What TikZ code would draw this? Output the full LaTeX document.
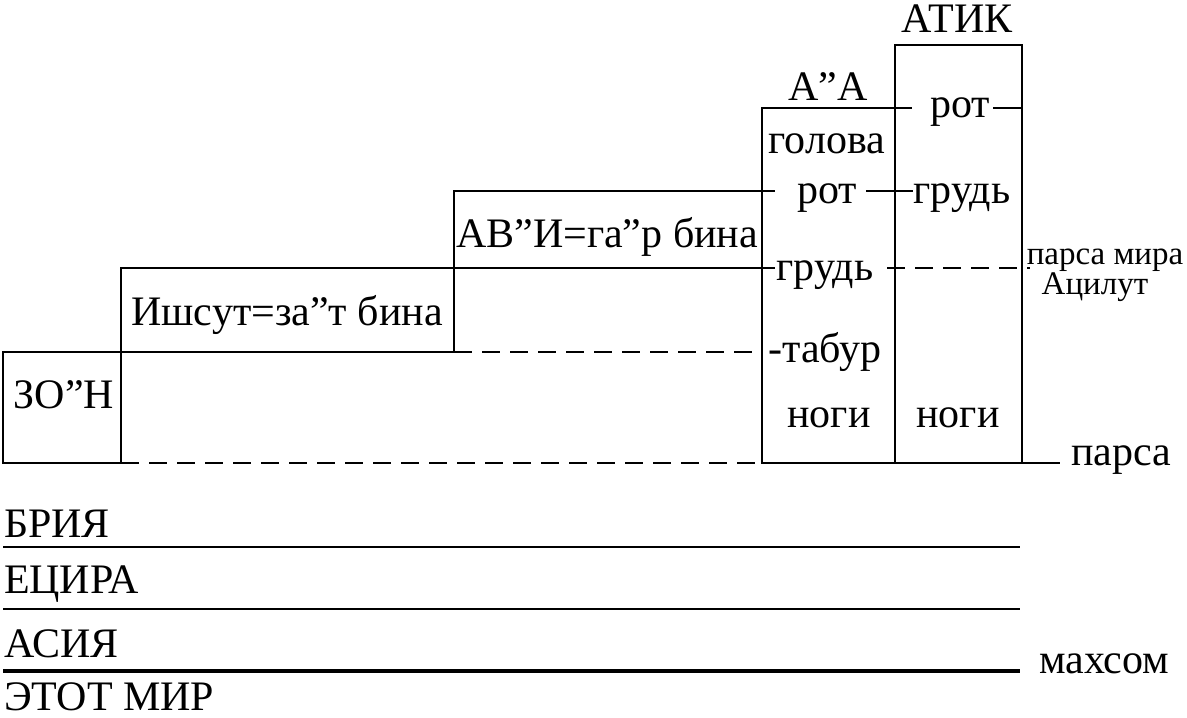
\documentclass[tikz,border=0pt]{standalone}
\usepackage{fontspec}
\setmainfont{Liberation Serif}
\begin{document}
\begin{tikzpicture}[x=0.5pt,y=-0.5pt,line width=1pt,
		lbl/.style={font=\fontsize{21}{25}\selectfont,inner sep=0pt,anchor=base},
		lblleft/.style={lbl,anchor=base west},
		small/.style={font=\fontsize{16.5}{14}\selectfont,inner sep=0pt,anchor=base},
		dsh/.style={dash pattern=on 9pt off 5pt}]
			\useasboundingbox (0,0) rectangle (1187,717);
			% boxes
			\draw (3,352) rectangle (121,463);
			\draw (121,268) rectangle (454,352);
			\draw (454,191) rectangle (762,268);
			\draw (762,108) rectangle (895,463);
			\draw (895,45) rectangle (1022,463);
			% levels
			\draw (762,108) -- (912,108);
			\draw (993,108) -- (1022,108);
			\draw (762,191) -- (775,191);
			\draw (866,191) -- (913,191);
			\draw (762,268) -- (775,268);
			\draw[dsh] (887,268) -- (1030,268);
			\draw[dsh] (454,352) -- (760,352);
			\draw[dsh] (121,463) -- (762,463);
			\draw (1022,463) -- (1060,463);
			% worlds
			\draw (3,547) -- (1020,547);
			\draw (3,609) -- (1020,609);
			\draw[line width=2.2pt] (3,671) -- (1020,671);
			% labels
			\node(Zon)		[lbl] at (64,408)		{ЗО”Н};
			\node(Ishsut)	[lbl] at (287,325)		{Ишсут=за”т бина};
			\node(Avi)		[lbl] at (607,247)		{АВ”И=га”р бина};
			\node(AA)		[lbl] at (828,100)		{А”А};
			\node(Atik)		[lbl] at (957,33)		{АТИК};
			\node(Golova)	[lbl] at (827,153)		{голова};
			\node(RotAA)	[lbl] at (827,203)		{рот};
			\node(RotAtik)	[lbl] at (960,118)		{рот};
			\node(GrudAA)	[lbl] at (825,280)		{грудь};
			\node(GrudAtik)	[lbl] at (962,203)		{грудь};
			\node(Tabur)	[lbl] at (825,362)		{-табур};
			\node(NogiAA)	[lbl] at (829,427)		{ноги};
			\node(NogiAtik)	[lbl] at (958,427)		{ноги};
			\node(ParsaMira)	[small] at (1105,264)	{парса мира};
			\node(Acilut)	[small] at (1095,294)	{Ацилут};
			\node(Parsa)	[lblleft] at (1070,465)	{парса};
			\node(Maxsom)	[lblleft] at (1038,673)	{махсом};
			\node(Bria)		[lblleft] at (3,537)		{БРИЯ};
			\node(Ecira)	[lblleft] at (3,593)		{ЕЦИРА};
			\node(Asia)		[lblleft] at (3,657)		{АСИЯ};
			\node(EtotMir)	[lblleft] at (3,710)		{ЭТОТ МИР};
		\end{tikzpicture}
\end{document}
